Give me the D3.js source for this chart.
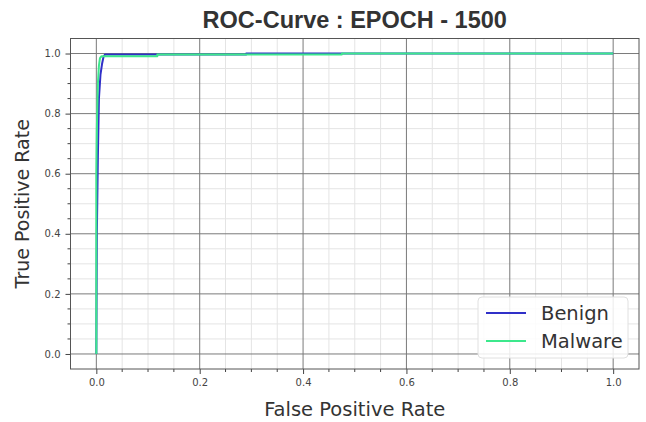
<!DOCTYPE html>
<html>
<head>
<meta charset="utf-8">
<script src="https://cdn.jsdelivr.net/npm/d3@7"></script>
<style>
  body { margin: 0; background: #fff; }
  svg { display: block; }
</style>
</head>
<body>
<div id="chart"></div>
<script>
// ROC curve values
const benignFpr = [0, 0.001, 0.003, 0.005, 0.008, 0.011, 0.014, 0.017, 0.29, 0.29, 1.0];
const benignTpr = [0, 0.4, 0.66, 0.85, 0.93, 0.965, 0.99, 0.997, 0.997, 1.0, 1.0];
const malwareFpr = [0, 0, 0.001, 0.003, 0.005, 0.007, 0.01, 0.118, 0.118, 0.475, 0.475, 1.0];
const malwareTpr = [0, 0.6, 0.75, 0.9, 0.96, 0.985, 0.991, 0.991, 0.997, 0.997, 1.0, 1.0];
const tickValues = [0, 0.2, 0.4, 0.6, 0.8, 1.0];
const seriesNames = ['Benign', 'Malware'];
const seriesColors = ['#3030c8', '#3ce88c'];

const width = 646, height = 422;
const margin = { top: 38.5, right: 7, bottom: 53, left: 70.5 };

const svg = d3.select('#chart')
  .append('svg')
  .attr('width', width)
  .attr('height', height);

const x = d3.scaleLinear()
  .domain([-0.05, 1.05])
  .range([margin.left, width - margin.right]);

const y = d3.scaleLinear()
  .domain([-0.05, 1.05])
  .range([height - margin.bottom, margin.top]);

const minorTicks = d3.range(0, 1.0001, 0.05).filter((v) => Math.round(v * 100) % 20 !== 0);

// Minor grid
const grid = svg.append('g');
grid.selectAll('.vminor')
  .data(minorTicks)
  .join('line')
  .attr('x1', (d) => x(d)).attr('x2', (d) => x(d))
  .attr('y1', y.range()[0]).attr('y2', y.range()[1])
  .attr('stroke', '#e4e4e4');
grid.selectAll('.hminor')
  .data(minorTicks)
  .join('line')
  .attr('class', 'hminor')
  .attr('y1', (d) => y(d)).attr('y2', (d) => y(d))
  .attr('x1', x.range()[0]).attr('x2', x.range()[1])
  .attr('stroke', '#e4e4e4');

// Major grid
const majorGrid = svg.append('g');
majorGrid.selectAll('.vmajor')
  .data(tickValues)
  .join('line')
  .attr('class', 'vmajor')
  .attr('x1', (d) => x(d)).attr('x2', (d) => x(d))
  .attr('y1', y.range()[0]).attr('y2', y.range()[1])
  .attr('stroke', '#7a7a7a');
majorGrid.selectAll('.hmajor')
  .data(tickValues)
  .join('line')
  .attr('class', 'hmajor')
  .attr('y1', (d) => y(d)).attr('y2', (d) => y(d))
  .attr('x1', x.range()[0]).attr('x2', x.range()[1])
  .attr('stroke', '#7a7a7a');

// Axes
const xAxisGroup = svg.append('g')
  .attr('transform', `translate(0,${y.range()[0]})`);
xAxisGroup.call(d3.axisBottom(x).tickValues(tickValues).tickFormat(d3.format('.1f')).tickSize(5).tickPadding(5))
  .call((g) => g.select('.domain').remove())
  .call((g) => g.selectAll('.tick line').attr('stroke', '#444'))
  .call((g) => g.selectAll('.tick text').attr('fill', '#444').style('font', '10px "DejaVu Sans"'));
xAxisGroup.selectAll('.minor')
  .data(minorTicks)
  .join('line')
  .attr('class', 'minor')
  .attr('x1', (d) => x(d)).attr('x2', (d) => x(d))
  .attr('y1', 0).attr('y2', 3)
  .attr('stroke', '#444');

const yAxisGroup = svg.append('g')
  .attr('transform', `translate(${x.range()[0]},0)`);
yAxisGroup.call(d3.axisLeft(y).tickValues(tickValues).tickFormat(d3.format('.1f')).tickSize(5).tickPadding(5))
  .call((g) => g.select('.domain').remove())
  .call((g) => g.selectAll('.tick line').attr('stroke', '#444'))
  .call((g) => g.selectAll('.tick text').attr('fill', '#444').style('font', '10px "DejaVu Sans"'));
yAxisGroup.selectAll('.minor')
  .data(minorTicks)
  .join('line')
  .attr('class', 'minor')
  .attr('y1', (d) => y(d)).attr('y2', (d) => y(d))
  .attr('x1', 0).attr('x2', -3)
  .attr('stroke', '#444');

// Curves
const series = [
  { name: seriesNames[0], color: seriesColors[0], points: benignFpr.map((f, i) => [f, benignTpr[i]]) },
  { name: seriesNames[1], color: seriesColors[1], points: malwareFpr.map((f, i) => [f, malwareTpr[i]]) }
];

const line = d3.line()
  .x((d) => x(d[0]))
  .y((d) => y(d[1]));

svg.append('g')
  .selectAll('path')
  .data(series)
  .join('path')
  .attr('d', (d) => line(d.points))
  .attr('fill', 'none')
  .attr('stroke', (d) => d.color)
  .attr('stroke-width', 2)
  .attr('stroke-linejoin', 'round');

// Plot frame
svg.append('rect')
  .attr('x', x.range()[0]).attr('y', y.range()[1])
  .attr('width', x.range()[1] - x.range()[0])
  .attr('height', y.range()[0] - y.range()[1])
  .attr('fill', 'none')
  .attr('stroke', '#555')
  .attr('stroke-width', 1);

// Legend
const legend = svg.append('g').attr('transform', 'translate(478,297)');
legend.append('rect')
  .attr('width', 150).attr('height', 61)
  .attr('rx', 4)
  .attr('fill', 'rgba(255,255,255,0.85)')
  .attr('stroke', '#e0e0e0');
const legendItem = legend.selectAll('.item')
  .data(series)
  .join('g')
  .attr('class', 'item')
  .attr('transform', (d, i) => `translate(0,${16 + i * 28})`);
legendItem.append('line')
  .attr('x1', 8).attr('x2', 48)
  .attr('stroke', (d) => d.color)
  .attr('stroke-width', 2);
legendItem.append('text')
  .attr('x', 63)
  .attr('dy', '0.35em')
  .attr('fill', '#333')
  .style('font', '19.5px "DejaVu Sans"')
  .text((d) => d.name);

// Title and axis labels
const cx = (x.range()[0] + x.range()[1]) / 2;
svg.append('text')
  .attr('x', cx).attr('y', 28)
  .attr('text-anchor', 'middle')
  .attr('fill', '#333')
  .style('font', 'bold 23.5px "Liberation Sans", Arial, sans-serif')
  .text('ROC-Curve : EPOCH - 1500');

svg.append('text')
  .attr('x', cx).attr('y', 416)
  .attr('text-anchor', 'middle')
  .attr('fill', '#333')
  .style('font', '19.5px "DejaVu Sans"')
  .text('False Positive Rate');

svg.append('text')
  .attr('transform', `translate(29,${(y.range()[0] + y.range()[1]) / 2}) rotate(-90)`)
  .attr('text-anchor', 'middle')
  .attr('fill', '#333')
  .style('font', '19px "DejaVu Sans"')
  .text('True Positive Rate');
</script>
</body>
</html>
